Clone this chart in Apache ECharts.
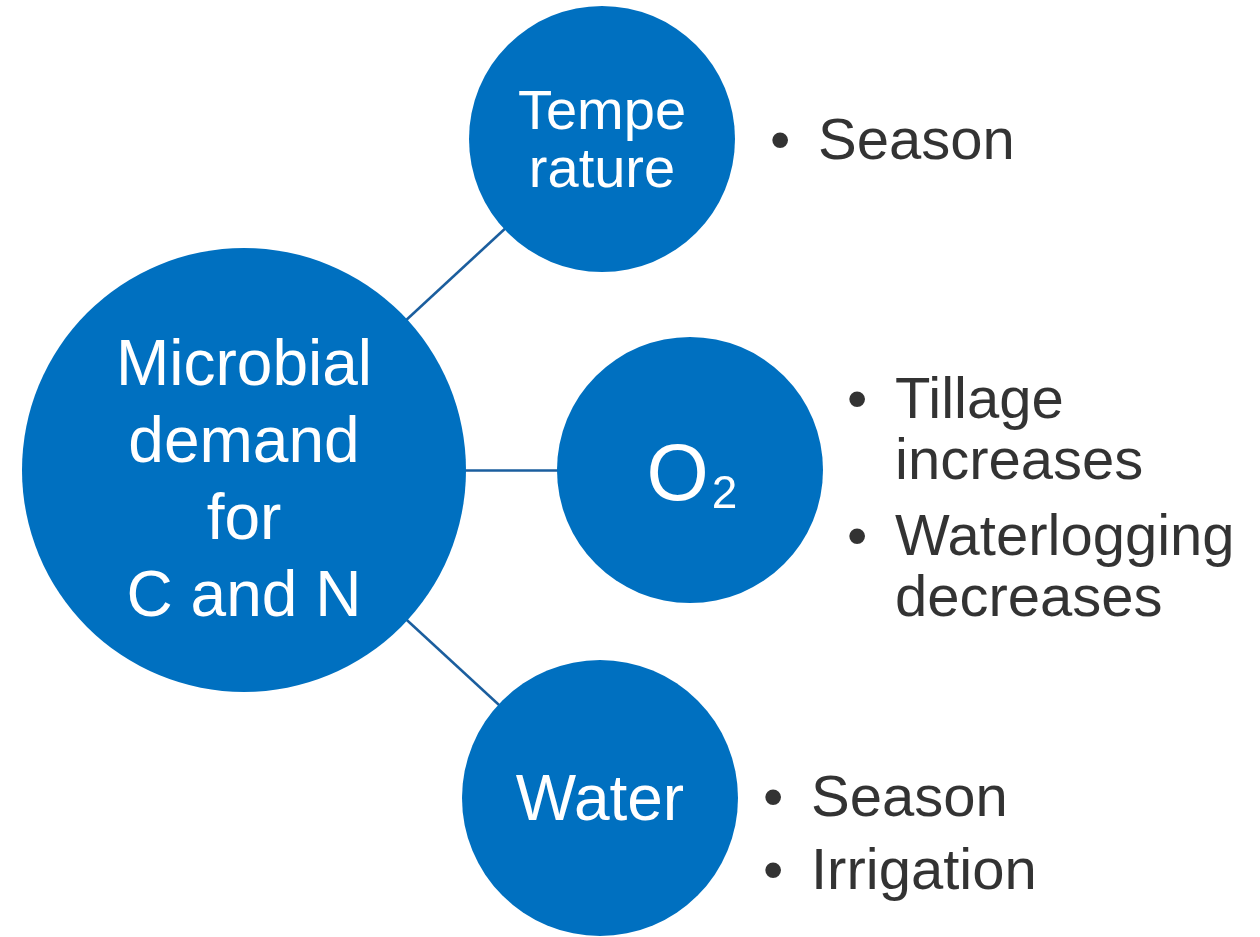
<!DOCTYPE html>
<html>
<head>
<meta charset="utf-8">
<title>Microbial demand for C and N</title>
<script src="https://cdn.jsdelivr.net/npm/echarts@6/dist/echarts.min.js"></script>
<style>
  html, body { margin: 0; padding: 0; background: #fff; }
  #chart { width: 1260px; height: 937px; }
</style>
</head>
<body>
<div id="chart"></div>
<script>
// nodes of the diagram (positions in a 1260 x 937 plane)
const nodeNames = ['Microbial\ndemand\nfor\nC and N', 'Tempe\nrature', 'O2', 'Water']
const nodeX = [244, 602, 690, 600]
const nodeY = [470, 139, 470, 798]
const nodeR = [222, 133, 133, 138]
const links = [[0, 1], [0, 2], [0, 3]]

// bullet notes beside each factor
const noteText = ['Season', 'Tillage\nincreases', 'Waterlogging\ndecreases', 'Season', 'Irrigation']
const noteX = [770, 847, 847, 763, 763]
const noteY = [138, 427, 564, 795, 868]

const FONT = "'Liberation Sans', Arial, sans-serif"
const BLUE = '#0070c0'

const nodeLabels = [
  { fontSize: 64, lineHeight: 77, offset: [0, 13] },
  { fontSize: 56, lineHeight: 58, offset: [0, 4] },
  {
    formatter: '{o|O}{s|2}',
    offset: [2, 8],
    rich: {
      o: { fontSize: 80, lineHeight: 80, color: '#fff', fontFamily: FONT },
      s: { fontSize: 46, lineHeight: 46, color: '#fff', fontFamily: FONT, verticalAlign: 'bottom', padding: [0, 0, 0, 3] }
    }
  },
  { fontSize: 64, lineHeight: 64, offset: [0, 4] }
]

const chart = echarts.init(document.getElementById('chart'))

const option = {
  animation: false,
  backgroundColor: '#fff',
  grid: { left: 0, right: 0, top: 0, bottom: 0 },
  xAxis: { type: 'value', min: 0, max: 1260, show: false },
  yAxis: { type: 'value', min: 0, max: 937, inverse: true, show: false },
  series: [
    {
      type: 'graph',
      coordinateSystem: 'cartesian2d',
      layout: 'none',
      silent: true,
      symbol: 'circle',
      itemStyle: { color: BLUE },
      lineStyle: { color: '#1b5e9e', width: 2.5, opacity: 1, curveness: 0 },
      label: {
        show: true,
        position: 'inside',
        color: '#fff',
        fontFamily: FONT,
        align: 'center'
      },
      data: nodeNames.map((name, i) => ({
        name: 'n' + i,
        value: [nodeX[i], nodeY[i]],
        symbolSize: nodeR[i] * 2,
        label: Object.assign({ formatter: name }, nodeLabels[i])
      })),
      links: links.map(([s, t]) => ({ source: 'n' + s, target: 'n' + t }))
    },
    {
      type: 'scatter',
      silent: true,
      symbolSize: 0,
      data: noteText.map((t, i) => [noteX[i], noteY[i], t]),
      label: {
        show: true,
        position: 'right',
        distance: 0,
        offset: [0, 5],
        color: '#000',
        fontFamily: FONT,
        formatter: p => p.value[2].split('\n')
          .map((line, k) => (k === 0 ? '{b|•}' : '{g|}') + '{t|' + line + '}')
          .join('\n'),
        rich: {
          b: { width: 48, fontSize: 58, lineHeight: 61, color: '#000', fontFamily: FONT },
          g: { width: 48, fontSize: 58, lineHeight: 61 },
          t: { fontSize: 58, lineHeight: 61, color: '#000', fontFamily: FONT }
        }
      }
    }
  ]
}

chart.setOption(option)
</script>
</body>
</html>
